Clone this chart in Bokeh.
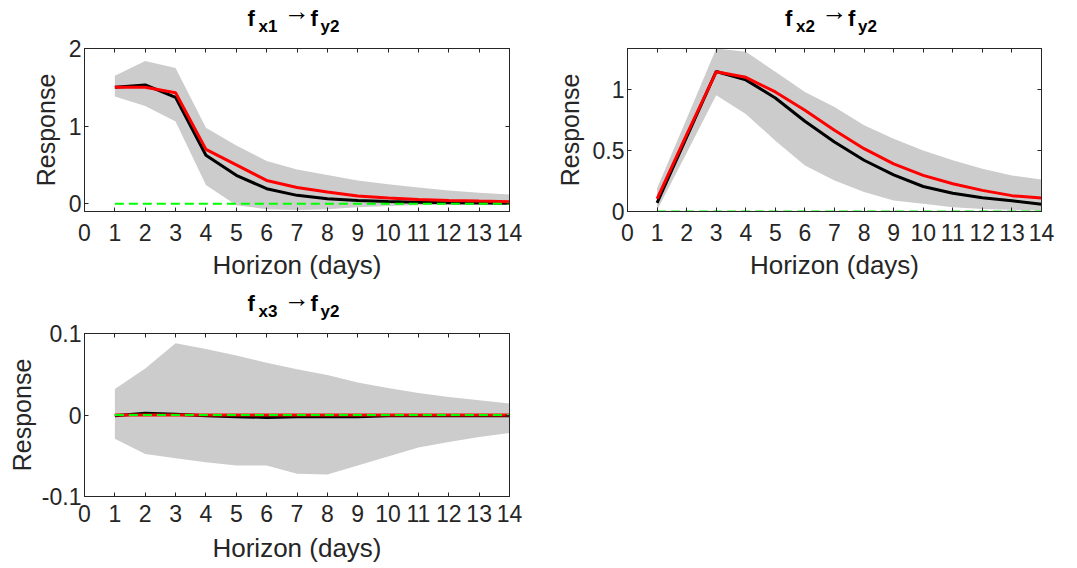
from bokeh.plotting import figure
from bokeh.models import ColumnDataSource, FixedTicker, LinearAxis, Range1d
from bokeh.layouts import column, row
from bokeh.core.properties import value
from bokeh.embed import file_html
from bokeh.resources import INLINE

# ---------------- data ----------------
horizon = list(range(1, 15))
x_ticks = list(range(0, 15))
x_tick_labels = [str(v) for v in x_ticks]
zero_line = [0.0] * 14

# panel 1 : f_x1 -> f_y2
p1_black = [1.50, 1.53, 1.37, 0.625, 0.366, 0.194, 0.108, 0.065, 0.043, 0.030, 0.020, 0.013, 0.010, 0.005]
p1_red = [1.50, 1.50, 1.43, 0.70, 0.50, 0.30, 0.21, 0.15, 0.10, 0.073, 0.056, 0.043, 0.034, 0.026]
p1_upper = [1.65, 1.84, 1.75, 0.98, 0.75, 0.55, 0.44, 0.37, 0.30, 0.25, 0.21, 0.17, 0.14, 0.12]
p1_lower = [1.38, 1.26, 1.06, 0.24, -0.02, -0.07, -0.08, -0.07, -0.045, -0.03, -0.02, -0.013, -0.01, -0.005]
p1_yticks = [0, 1, 2]
p1_ylabels = ["0", "1", "2"]

# panel 2 : f_x2 -> f_y2
p2_black = [0.07, 0.61, 1.148, 1.079, 0.93, 0.74, 0.57, 0.42, 0.30, 0.205, 0.15, 0.112, 0.088, 0.06]
p2_red = [0.104, 0.63, 1.145, 1.10, 0.98, 0.83, 0.666, 0.515, 0.39, 0.296, 0.227, 0.173, 0.13, 0.11]
p2_upper = [0.19, 0.76, 1.336, 1.31, 1.145, 0.98, 0.857, 0.707, 0.597, 0.50, 0.42, 0.35, 0.296, 0.263]
p2_lower = [0.01, 0.48, 0.953, 0.80, 0.58, 0.378, 0.255, 0.16, 0.09, 0.063, 0.035, 0.02, 0.014, 0.008]
p2_yticks = [0, 0.5, 1]
p2_ylabels = ["0", "0.5", "1"]

# panel 3 : f_x3 -> f_y2
p3_black = [-0.001, 0.002, 0.001, -0.001, -0.002, -0.003, -0.002, -0.002, -0.002, -0.001, -0.001, -0.001, -0.001, -0.001]
p3_red = [0.0] * 14
p3_upper = [0.032, 0.057, 0.088, 0.081, 0.073, 0.064, 0.056, 0.049, 0.040, 0.033, 0.027, 0.022, 0.018, 0.014]
p3_lower = [-0.029, -0.048, -0.053, -0.058, -0.062, -0.062, -0.072, -0.073, -0.062, -0.051, -0.040, -0.033, -0.027, -0.022]
p3_yticks = [-0.1, 0, 0.1]
p3_ylabels = ["-0.1", "0", "0.1"]

title_subs = [("x1", "y2"), ("x2", "y2"), ("x3", "y2")]

# ---------------- styling ----------------
FONT = "Liberation Sans"
AX = "#262626"
FRAME_H = 163
TOP_B = 10


def style_main_axis(ax):
    ax.axis_line_color = AX
    ax.major_tick_line_color = AX
    ax.major_tick_in = 4
    ax.major_tick_out = 0
    ax.minor_tick_line_color = None
    ax.major_label_text_font = FONT
    ax.major_label_text_font_size = "23px"
    ax.major_label_text_color = AX
    ax.axis_label_text_font = FONT
    ax.axis_label_text_font_style = "normal"
    ax.axis_label_text_color = AX


def make_panel(frame_w, bl, br, bb, yr, yticks, ylabels, black, red, upper, lower, x_std, x_lab_std, y_lab_std):
    p = figure(frame_width=frame_w, frame_height=FRAME_H,
               x_range=Range1d(0, 14), y_range=Range1d(*yr),
               min_border_left=bl, min_border_right=br, min_border_top=TOP_B, min_border_bottom=bb,
               output_backend="svg", toolbar_location=None)
    p.grid.visible = False
    p.outline_line_color = AX
    p.outline_line_width = 1
    p.background_fill_color = "white"
    p.border_fill_color = "white"

    src = ColumnDataSource(dict(x=horizon, black=black, red=red, upper=upper, lower=lower, zero=zero_line))
    p.varea(x="x", y1="lower", y2="upper", source=src, fill_color="#cccccc")
    p.line(x="x", y="black", source=src, line_color="black", line_width=3)
    p.line(x="x", y="red", source=src, line_color="#ff0000", line_width=3)
    p.line(x="x", y="zero", source=src, line_color="#00ff00", line_width=2, line_dash="9 5")

    xa = p.xaxis[0]
    ya = p.yaxis[0]
    xa.ticker = FixedTicker(ticks=x_ticks)
    xa.major_label_overrides = {t: l for t, l in zip(x_ticks, x_tick_labels)}
    ya.ticker = FixedTicker(ticks=yticks)
    ya.major_label_overrides = {t: l for t, l in zip(yticks, ylabels)}
    xa.axis_label = "Horizon (days)"
    ya.axis_label = "Response"
    style_main_axis(xa)
    style_main_axis(ya)
    xa.axis_label_text_font_size = "26px"
    ya.axis_label_text_font_size = "25px"
    xa.major_label_standoff = x_std
    xa.axis_label_standoff = x_lab_std
    ya.major_label_standoff = 3
    ya.axis_label_standoff = y_lab_std

    # tick marks on the right and top edges (box style), no labels
    for loc, tk in (("right", yticks), ("above", x_ticks)):
        ax = LinearAxis(ticker=FixedTicker(ticks=tk))
        ax.axis_line_color = AX
        ax.major_tick_line_color = AX
        ax.major_tick_in = 4
        ax.major_tick_out = 0
        ax.minor_tick_line_color = None
        ax.major_label_standoff = 0
        ax.major_label_text_font_size = "0px"
        ax.major_label_text_color = None
        p.add_layout(ax, loc)
    return p


def make_title(height, frame_w, bl, br, subs, main_rise, sub_rise, arrow_rise):
    # frame has the same horizontal extent as the panel frame below it
    t = figure(frame_width=frame_w, frame_height=height, x_range=Range1d(0, frame_w), y_range=Range1d(0, height),
               x_axis_location=None, y_axis_location=None, title=None,
               min_border_left=bl, min_border_right=br, min_border_top=0, min_border_bottom=0,
               output_backend="svg", toolbar_location=None)
    t.grid.visible = False
    t.outline_line_color = None
    t.background_fill_color = "white"
    t.border_fill_color = "white"
    cx = frame_w / 2.0
    bold_main = ColumnDataSource(dict(x=[cx - 49.5, cx + 13.5], y=[main_rise, main_rise], t=["f", "f"]))
    bold_sub = ColumnDataSource(dict(x=[cx - 38.5, cx + 23.5], y=[sub_rise, sub_rise], t=[subs[0], subs[1]]))
    arrow = ColumnDataSource(dict(x=[cx - 13], y=[arrow_rise], t=["\u2192"]))
    t.text(x="x", y="y", text="t", source=bold_main, text_font=value(FONT), text_font_size=value("22px"),
           text_font_style="bold", text_color="black", text_align="left", text_baseline="alphabetic")
    t.text(x="x", y="y", text="t", source=bold_sub, text_font=value(FONT), text_font_size=value("17px"),
           text_font_style="bold", text_color="black", text_align="left", text_baseline="alphabetic")
    t.text(x="x", y="y", text="t", source=arrow, text_font=value(FONT), text_font_size=value("26px"),
           text_font_style="normal", text_color="black", text_align="left", text_baseline="alphabetic")
    return t


p1 = make_panel(425, 84, 31, 79, (-0.1, 2.0), p1_yticks, p1_ylabels, p1_black, p1_red, p1_upper, p1_lower, 12, 6, 6)
p2 = make_panel(414, 87, 36, 79, (0.0, 1.336), p2_yticks, p2_ylabels, p2_black, p2_red, p2_upper, p2_lower, 12, 6, 6)
p3 = make_panel(425, 84, 31, 72, (-0.1, 0.1), p3_yticks, p3_ylabels, p3_black, p3_red, p3_upper, p3_lower, 8, 8, 3)

t1 = make_title(48 - TOP_B, 425, 84, 31, title_subs[0], 20, 12, 28)
t2 = make_title(48 - TOP_B, 414, 87, 36, title_subs[1], 20, 12, 28)
t3 = make_title(43 - TOP_B, 425, 84, 31, title_subs[2], 20, 12, 26)

layout = row(column(t1, p1, t3, p3, spacing=0), column(t2, p2, spacing=0), spacing=0)
open("out.html", "w").write(file_html(layout, INLINE))
